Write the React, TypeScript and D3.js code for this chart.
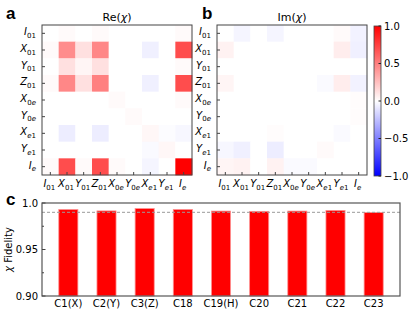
import * as d3 from "d3";

// operator basis for the process matrix
const basisLetters = ["I", "X", "Y", "Z", "X", "Y", "X", "Y", "I"];
const basisSubs = ["01", "01", "01", "01", "0e", "0e", "e1", "e1", "e"];

// Re(chi), rows top to bottom
const reChi = [
  [0.0, 0.02, 0.0, 0.02, 0.0, 0.0, 0.0, 0.0, 0.02],
  [0.02, 0.45, 0.12, 0.47, 0.0, 0.0, -0.06, 0.0, 0.7],
  [0.0, 0.12, 0.04, 0.12, 0.0, 0.0, 0.0, 0.0, 0.02],
  [0.02, 0.47, 0.12, 0.5, 0.0, 0.0, -0.06, 0.0, 0.7],
  [0.0, 0.0, 0.0, 0.0, 0.02, 0.0, 0.0, 0.0, 0.02],
  [0.0, 0.0, 0.0, 0.0, 0.0, 0.02, 0.0, 0.0, 0.0],
  [0.0, -0.07, 0.0, -0.07, 0.0, 0.0, 0.03, -0.01, -0.03],
  [0.0, 0.0, 0.0, 0.0, 0.0, 0.0, -0.02, 0.03, 0.0],
  [0.02, 0.7, 0.02, 0.7, 0.02, 0.0, -0.04, 0.0, 1.0],
];

// Im(chi), rows top to bottom
const imChi = [
  [0.0, -0.04, 0.0, -0.04, 0.0, 0.0, 0.0, 0.02, -0.05],
  [0.05, 0.0, 0.0, 0.0, 0.0, 0.0, 0.0, 0.07, -0.06],
  [0.0, 0.0, 0.0, 0.0, 0.0, 0.0, 0.0, 0.0, 0.0],
  [0.04, 0.0, 0.0, 0.0, 0.0, 0.0, -0.02, 0.07, -0.05],
  [0.0, 0.0, 0.0, 0.0, 0.0, 0.0, 0.0, 0.0, 0.01],
  [0.0, 0.0, 0.0, 0.0, 0.0, 0.0, 0.0, 0.0, 0.01],
  [0.0, 0.0, 0.0, 0.01, 0.0, 0.0, 0.0, -0.02, 0.0],
  [-0.03, -0.06, 0.0, -0.07, 0.0, 0.0, 0.02, 0.0, 0.0],
  [0.04, 0.05, 0.0, 0.05, -0.02, -0.02, 0.0, 0.0, 0.0],
];

const colorbarTicks = [1.0, 0.5, 0.0, -0.5, -1.0];

// panel c
const gates = ["C1(X)", "C2(Y)", "C3(Z)", "C18", "C19(H)", "C20", "C21", "C22", "C23"];
const fidelity = [0.993, 0.9915, 0.994, 0.993, 0.9913, 0.991, 0.9913, 0.992, 0.9897];
const fidelityTicks = [0.9, 0.95, 1.0];
const fidelityMinor = [0.925, 0.975];
const refLine = 0.99;

const font = "DejaVu Sans, sans-serif";

// matplotlib bwr
const bwr = d3
  .scaleLinear<string>()
  .domain([-1, 0, 1])
  .range(["#0000ff", "#ffffff", "#ff0000"])
  .clamp(true);

function BasisLabel({ i, x, y, anchor }: { i: number; x: number; y: number; anchor: string }) {
  return (
    <text x={x} y={y} textAnchor={anchor} fontFamily={font} fontSize={10} fill="#000">
      <tspan fontStyle="italic">{basisLetters[i]}</tspan>
      <tspan fontSize={7} dy={2.5} fontStyle={basisSubs[i] === "e" ? "italic" : "normal"}>
        {basisSubs[i].split("").map((c, k) => (
          <tspan key={k} fontStyle={c === "e" ? "italic" : "normal"}>{c}</tspan>
        ))}
      </tspan>
    </text>
  );
}

function Heatmap({ data, x0, title }: { data: number[][]; x0: number; title: string }) {
  const top = 25;
  const size = 150;
  const band = d3.scaleBand<number>().domain(d3.range(9)).range([0, size]);
  const bw = band.bandwidth();
  return (
    <g>
      <text x={x0 + size / 2} y={21} textAnchor="middle" fontFamily={font} fontSize={11}>
        {title.split("χ")[0]}
        <tspan fontStyle="italic">χ</tspan>
        {title.split("χ")[1]}
      </text>
      {data.map((row, r) =>
        row.map((v, c) => (
          <rect
            key={`${r}-${c}`}
            x={x0 + (band(c) ?? 0)}
            y={top + (band(r) ?? 0)}
            width={bw + 0.3}
            height={bw + 0.3}
            fill={bwr(v)}
          />
        ))
      )}
      <rect x={x0} y={top} width={size} height={size} fill="none" stroke="#444" strokeWidth={1} />
      {d3.range(9).map((i) => {
        const cx = x0 + (band(i) ?? 0) + bw / 2;
        const cy = top + (band(i) ?? 0) + bw / 2;
        return (
          <g key={i}>
            <line x1={cx} x2={cx} y1={top + size} y2={top + size - 3} stroke="#444" />
            <line x1={x0} x2={x0 + 3} y1={cy} y2={cy} stroke="#444" />
            <BasisLabel i={i} x={cx - 1} y={top + size + 12} anchor="middle" />
            <BasisLabel i={i} x={x0 - 6} y={cy + 2} anchor="end" />
          </g>
        );
      })}
    </g>
  );
}

function Colorbar() {
  const x = 374;
  const w = 7;
  const y = d3.scaleLinear().domain([1, -1]).range([26, 176]);
  const stops = d3.range(0, 1.0001, 0.1);
  return (
    <g>
      <defs>
        <linearGradient id="cbar" x1="0" y1="0" x2="0" y2="1">
          {stops.map((s) => (
            <stop key={s} offset={s} stopColor={bwr(1 - 2 * s)} />
          ))}
        </linearGradient>
      </defs>
      <rect x={x} y={y(1)} width={w} height={y(-1) - y(1)} fill="url(#cbar)" stroke="#444" strokeWidth={0.8} />
      {colorbarTicks.map((t) => (
        <g key={t}>
          <line x1={x + w} x2={x + w - 2.5} y1={y(t)} y2={y(t)} stroke="#222" />
          <text x={x + w + 3} y={y(t) + 3.5} fontFamily={font} fontSize={10}>
            {t < 0 ? `\u2212${Math.abs(t).toFixed(1)}` : t.toFixed(1)}
          </text>
        </g>
      ))}
    </g>
  );
}

function BarPanel() {
  const left = 42;
  const right = 400;
  const top = 203;
  const bottom = 296;
  const x = d3.scaleBand<string>().domain(gates).range([left, right]).paddingInner(0.5).paddingOuter(0.44);
  const y = d3.scaleLinear().domain([0.9, 1.0]).range([bottom, top]);
  return (
    <g>
      {gates.map((g, i) => (
        <rect
          key={g}
          x={x(g)}
          y={y(fidelity[i])}
          width={x.bandwidth()}
          height={y(0.9) - y(fidelity[i])}
          fill="#ff0000"
          stroke="#ff9090"
          strokeWidth={0.8}
        />
      ))}
      <line x1={left} x2={right} y1={y(refLine)} y2={y(refLine)} stroke="#999" strokeDasharray="3,2" strokeWidth={1} />
      <rect x={left} y={top} width={right - left} height={bottom - top} fill="none" stroke="#555" strokeWidth={1.2} />
      {fidelityTicks.map((t) => (
        <g key={t}>
          <line x1={left} x2={left + 3.5} y1={y(t)} y2={y(t)} stroke="#444" />
          <text x={left - 4} y={y(t) + 3.5} textAnchor="end" fontFamily={font} fontSize={10}>
            {t === 1 ? "1.0" : t.toFixed(2)}
          </text>
        </g>
      ))}
      {fidelityMinor.map((t) => (
        <line key={t} x1={left} x2={left + 2} y1={y(t)} y2={y(t)} stroke="#444" />
      ))}
      {gates.map((g) => (
        <text
          key={g}
          x={(x(g) ?? 0) + x.bandwidth() / 2}
          y={bottom + 11}
          textAnchor="middle"
          fontFamily={font}
          fontSize={10}
        >
          {g}
        </text>
      ))}
      <text transform={`translate(12,${(top + bottom) / 2}) rotate(-90)`} textAnchor="middle" fontFamily={font} fontSize={10}>
        <tspan fontStyle="italic">χ</tspan> Fidelity
      </text>
    </g>
  );
}

export default function App() {
  return (
    <svg width={415} height={311} style={{ position: "absolute", left: 0, top: 0 }}>
      <rect width={415} height={311} fill="#fff" />
      <Heatmap data={reChi} x0={42} title="Re(χ)" />
      <Heatmap data={imChi} x0={217} title="Im(χ)" />
      <Colorbar />
      <BarPanel />
      <text x={6} y={19} fontFamily="Liberation Sans, Arial, sans-serif" fontWeight="bold" fontSize={17}>a</text>
      <text x={202} y={19} fontFamily="Liberation Sans, Arial, sans-serif" fontWeight="bold" fontSize={17}>b</text>
      <text x={6} y={205} fontFamily="Liberation Sans, Arial, sans-serif" fontWeight="bold" fontSize={17}>c</text>
    </svg>
  );
}
